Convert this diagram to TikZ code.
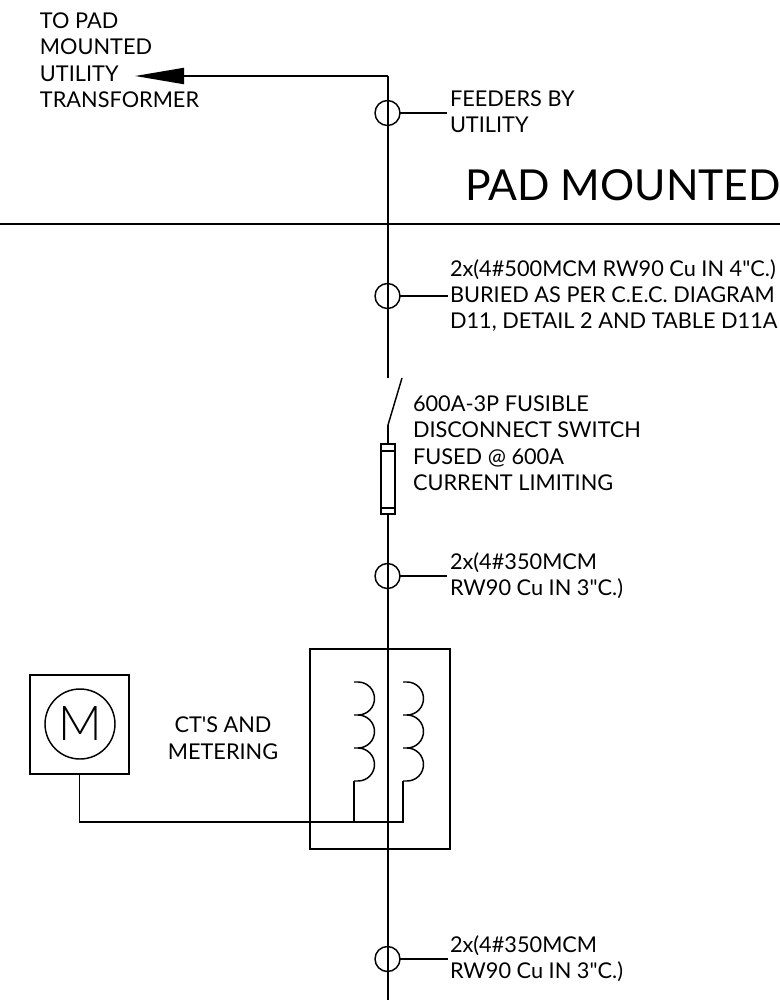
\documentclass[tikz,border=0pt]{standalone}
\usepackage{fontspec}
\setmainfont{Lato}[Ligatures=TeXOff]
\newfontfamily\thinfont{Lato Light}
\usetikzlibrary{arrows.meta}
\tikzset{
  wire/.style={line width=1.5pt,black},
  thin wire/.style={line width=1.1pt,black},
  lbl/.style={anchor=base west,inner sep=0pt,outer sep=0pt,font=\fontsize{16.3pt}{18pt}\selectfont},
  ctlbl/.style={anchor=base,inner sep=0pt,outer sep=0pt,font=\fontsize{16.3pt}{18pt}\selectfont},
  big/.style={anchor=base west,inner sep=0pt,outer sep=0pt,font=\fontsize{32pt}{35pt}\selectfont},
  cable/.style={circle,draw,line width=1.1pt,minimum size=25pt*0.75,inner sep=0pt,outer sep=0pt},
}
\begin{document}
\begin{tikzpicture}[x=0.75pt,y=-0.75pt]
\useasboundingbox (0,0) rectangle (780,1000);
\clip (0,0) rectangle (780,1000);
% texts
\node[lbl] (t1) at (40,28) {TO PAD};
\node[lbl] (t2) at (40,54) {MOUNTED};
\node[lbl] (t3) at (40,81) {UTILITY};
\node[lbl] (t4) at (40,107) {TRANSFORMER};
\node[lbl] (f1) at (450,106) {FEEDERS BY};
\node[lbl] (f2) at (450,132) {UTILITY};
\node[big] (pm) at (465,200) {PAD MOUNTED};
\node[lbl] (b1) at (450,276) {2x(4\#500MCM RW90 Cu IN 4"C.)};
\node[lbl] (b2) at (450,302) {BURIED AS PER C.E.C. DIAGRAM};
\node[lbl] (b3) at (450,328) {D11, DETAIL 2 AND TABLE D11A};
\node[lbl] (s1) at (413,411) {600A-3P FUSIBLE};
\node[lbl] (s2) at (413,437) {DISCONNECT SWITCH};
\node[lbl] (s3) at (413,464) {FUSED @ 600A};
\node[lbl] (s4) at (413,490) {CURRENT LIMITING};
\node[lbl] (c1) at (450,569) {2x(4\#350MCM};
\node[lbl] (c2) at (450,595) {RW90 Cu IN 3"C.)};
\node[ctlbl] (m1) at (223,732) {CT'S AND};
\node[ctlbl] (m2) at (223,759) {METERING};
\node[lbl] (d1) at (450,952) {2x(4\#350MCM};
\node[lbl] (d2) at (450,978) {RW90 Cu IN 3"C.)};
% coordinates
\coordinate (arrowTip) at (135,76);
\coordinate (top) at (388,76);
\coordinate (swTop) at (388,378);
\coordinate (swHinge) at (388,425);
\coordinate (swBlade) at (402,378);
\coordinate (busL) at (0,224);
\coordinate (busR) at (780,224);
\coordinate (bottom) at (388,1000);
\coordinate (tapL) at (354,781);
\coordinate (tapR) at (403,781);
\coordinate (tapLb) at (354,822);
\coordinate (tapRb) at (403,822);
% ruling
\draw[wire] (busL) -- (busR);
\draw[wire,-{Triangle[length=36.75pt,width=12pt]}] (top) -- (arrowTip);
\draw[wire] (top) -- (swTop);
\draw[wire] (swHinge) -- (388,444);
\draw[thin wire] (swHinge) -- (swBlade);
% fuse
\node[draw,line width=1.1pt,minimum width=10.5pt,minimum height=52.5pt,inner sep=0pt,outer sep=0pt] (fuse) at (388,479) {};
\draw[thin wire] (381,451) -- (395,451) (381,508) -- (395,508);
\draw[wire] (fuse.south) -- (bottom);
% cable markers
\node[cable] (k1) at (387.5,113) {};
\node[cable] (k2) at (387.5,296) {};
\node[cable] (k3) at (387.5,576) {};
\node[cable] (k4) at (387.5,959) {};
\coordinate (k1e) at (447,113);
\coordinate (k2e) at (448,296);
\coordinate (k3e) at (447,576);
\coordinate (k4e) at (448,959);
\draw[thin wire] (k1.east) -- (k1e);
\draw[thin wire] (k2.east) -- (k2e);
\draw[thin wire] (k3.east) -- (k3e);
\draw[thin wire] (k4.east) -- (k4e);
% CT box
\node[draw,line width=1.1pt,minimum width=105pt,minimum height=150pt,inner sep=0pt,outer sep=0pt] (ct) at (380,749) {};
% meter
\node[draw,line width=1.1pt,minimum width=74.25pt,minimum height=74.25pt,inner sep=0pt,outer sep=0pt] (mbox) at (79.5,724.5) {};
\node[circle,draw,line width=1.1pt,minimum size=52.5pt,inner sep=0pt,outer sep=0pt] (mc) at (80,724) {};
\node[inner sep=0pt,font=\thinfont\fontsize{36pt}{38pt}\selectfont] (mm) at (80,724) {M};
% coils
\draw[thin wire] (tapL) -- ++(4,0) arc[start angle=-90,end angle=90,radius=12.375pt] -- ++(-4,0) ++(4,0) arc[start angle=-90,end angle=90,radius=12.375pt] -- ++(-4,0) ++(4,0) arc[start angle=-90,end angle=90,radius=12.375pt] -- ++(-4,0);
\draw[thin wire] (tapR) -- ++(4,0) arc[start angle=-90,end angle=90,radius=12.375pt] -- ++(-4,0) ++(4,0) arc[start angle=-90,end angle=90,radius=12.375pt] -- ++(-4,0) ++(4,0) arc[start angle=-90,end angle=90,radius=12.375pt] -- ++(-4,0);
\draw[thin wire] (mbox.south) |- (tapRb) -- (tapR);
\draw[thin wire] (tapL) -- (tapLb);
\end{tikzpicture}
\end{document}
